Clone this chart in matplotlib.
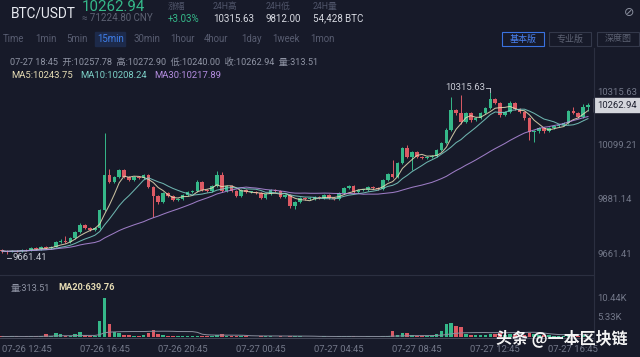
import numpy as np
import pandas as pd
import matplotlib
matplotlib.use("Agg")
import matplotlib.pyplot as plt
import matplotlib.transforms as mtransforms
from matplotlib.patches import Rectangle

plt.rcParams['font.family'] = ['Roboto', 'Noto Sans CJK SC', 'DejaVu Sans']

########################################
# Data (15min BTC/USDT)
########################################
open0 = 9679
closes = [
    9675, 9672, 9676, 9674, 9680, 9678, 9686, 9684, 9690, 9688,
    9692, 9711, 9715, 9712, 9727, 9752, 9780, 9768, 9760, 9768,
    9841, 9982, 9954, 9974, 10002, 9974, 9962, 9974, 9970, 9982,
    9934, 9897, 9873, 9909, 9897, 9881, 9885, 9901, 9913, 9917,
    9954, 9921, 9917, 9938, 9982, 9917, 9938, 9917, 9897, 9921,
    9913, 9913, 9909, 9889, 9905, 9921, 9917, 9893, 9901, 9857,
    9873, 9889, 9885, 9887, 9893, 9889, 9901, 9889, 9885, 9909,
    9929, 9938, 9913, 9921, 9921, 9934, 9930, 9925, 9962, 9986,
    9974, 10030, 10091, 10055, 10075, 10055, 10051, 10055, 10059, 10083,
    10111, 10164, 10245, 10232, 10196, 10232, 10204, 10212, 10232, 10253,
    10289, 10273, 10224, 10237, 10273, 10249, 10237, 10212, 10156, 10160,
    10172, 10160, 10172, 10180, 10184, 10192, 10241, 10232, 10216, 10257.78,
    10262.94,
]
highs = [
    9684, 9680, 9680, 9681, 9685, 9684, 9690, 9691, 9695, 9694,
    9697, 9716, 9722, 9736, 9732, 9757, 9790, 9784, 9772, 9773,
    9846, 10151, 10006, 9980, 10008, 10006, 9978, 9979, 9978, 9988,
    9986, 9938, 9901, 9914, 9913, 9900, 9890, 9906, 9918, 9922,
    9960, 9958, 9926, 9943, 9998, 9994, 9943, 9942, 9921, 9926,
    9925, 9918, 9917, 9913, 9910, 9926, 9925, 9921, 9906, 9905,
    9878, 9894, 9893, 9892, 9898, 9897, 9906, 9905, 9893, 9914,
    9934, 9943, 9942, 9926, 9926, 9939, 9938, 9934, 9967, 9991,
    10043, 10035, 10096, 10103, 10080, 10079, 10060, 10060, 10064, 10088,
    10116, 10170, 10297, 10250, 10305, 10237, 10236, 10217, 10237, 10258,
    10315.63, 10294, 10278, 10242, 10279, 10278, 10253, 10241, 10216, 10165,
    10177, 10176, 10177, 10185, 10189, 10197, 10246, 10258, 10236, 10270,
    10272.90,
]
lows = [
    9668, 9661.41, 9669, 9670, 9671, 9674, 9675, 9680, 9681, 9683,
    9685, 9690, 9706, 9708, 9709, 9724, 9748, 9762, 9755, 9756,
    9765, 9836, 9948, 9950, 9970, 9968, 9957, 9958, 9965, 9966,
    9928, 9812, 9866, 9868, 9892, 9876, 9877, 9881, 9897, 9909,
    9913, 9916, 9912, 9913, 9934, 9912, 9913, 9912, 9892, 9893,
    9908, 9908, 9904, 9884, 9885, 9901, 9912, 9888, 9889, 9850,
    9845, 9868, 9880, 9881, 9883, 9884, 9885, 9884, 9880, 9881,
    9905, 9925, 9908, 9909, 9916, 9917, 9925, 9920, 9921, 9958,
    9969, 9970, 10026, 10050, 10002, 10050, 10046, 10047, 10050, 10055,
    10079, 10107, 10160, 10226, 10190, 10192, 10198, 10200, 10208, 10228,
    10249, 10268, 10218, 10220, 10233, 10244, 10232, 10206, 10123, 10115,
    10150, 10150, 10155, 10168, 10176, 10180, 10188, 10227, 10211, 10212,
    10240.00,
]
# volume in thousands of BTC
volumes = [
    0.15, 0.12, 0.2, 0.15, 0.1, 0.15, 0.2, 0.15, 0.3, 0.7,
    0.2, 1.2, 0.8, 0.3, 0.4, 0.7, 1.4, 0.5, 0.4, 0.4,
    4.3, 10.44, 3.4, 1.4, 1.2, 0.6, 0.6, 0.4, 0.4, 0.5,
    1.1, 1.9, 0.7, 0.5, 0.3, 0.3, 0.25, 0.3, 0.3, 0.25,
    0.4, 0.3, 0.2, 0.25, 0.5, 0.9, 0.3, 0.25, 0.3, 0.2,
    0.15, 0.1, 0.12, 0.2, 0.15, 0.2, 0.1, 0.2, 0.1, 0.3,
    0.2, 0.15, 0.1, 0.1, 0.12, 0.1, 0.15, 0.1, 0.1, 0.2,
    0.2, 0.15, 0.2, 0.1, 0.1, 0.15, 0.1, 0.1, 0.3, 0.4,
    1.7, 0.5, 1.0, 1.0, 0.6, 0.3, 0.3, 0.2, 0.2, 0.9,
    1.7, 3.4, 3.9, 2.9, 2.6, 0.8, 0.6, 0.5, 0.5, 0.6,
    0.9, 0.8, 1.1, 0.6, 0.7, 0.6, 0.5, 0.6, 1.2, 0.9,
    0.6, 0.5, 0.5, 0.4, 0.4, 0.4, 0.7, 0.5, 0.4, 0.6,
    0.31351,
]
tick_idx = [5, 21, 37, 53, 69, 85, 101, 117]
tick_labels = ["07-26 12:45", "07-26 16:45", "07-26 20:45", "07-27 00:45",
               "07-27 04:45", "07-27 08:45", "07-27 12:45", "07-27 16:45"]
price_ticks = [10315.63, 10099.21, 9881.14, 9661.41]
last_price = 10262.94
vol_ticks = [10.44, 5.33]
vol_tick_labels = ["10.44K", "5.33K"]

########################################
# Colours
########################################
BG = "#171a29"
GREEN = "#35b889"
RED = "#dc5a64"
GREY = "#737889"
LIGHT = "#c9ccd6"
MA5_C = "#e6dcb4"
MA10_C = "#7ccfc6"
MA30_C = "#b48de0"

W, H = 640, 357
def fx(x):
    return x / W
def fy(y):
    return 1 - y / H

df = pd.DataFrame({"close": closes, "high": highs, "low": lows, "vol": volumes})
df["open"] = [open0] + closes[:-1]
df["up"] = df["close"] >= df["open"]
idx = np.arange(len(df))

fig = plt.figure(figsize=(6.4, 3.57), dpi=100, facecolor=BG)

########################################
# Price panel
########################################
ax = fig.add_axes([0, fy(272), 593 / W, 190 / H])
ax.set_facecolor(BG)
ax.set_xlim(-0.41, 121.03)
ax.set_ylim(10099.21 - 126 * 4.04, 10099.21 + 64 * 4.04)
ax.axis("off")

cols = np.where(df["up"], GREEN, RED)
ax.vlines(idx, df["low"], df["high"], colors=cols, linewidth=0.7)
body_lo = np.minimum(df["open"], df["close"])
body_h = np.maximum(np.abs(df["close"] - df["open"]), 2.5)
ax.bar(idx, body_h, bottom=body_lo, width=0.74, color=cols, linewidth=0)

for n, c in [(5, MA5_C), (10, MA10_C), (30, MA30_C)]:
    ma = df["close"].rolling(n, min_periods=1).mean()
    ax.plot(idx, ma, color=c, linewidth=0.75, alpha=0.85)

# high / low markers
hi_i = int(np.argmax(df["high"]))
lo_i = int(np.argmin(df["low"]))
ax.plot([hi_i - 0.9, hi_i], [df["high"][hi_i] + 18, df["high"][hi_i] + 18], color=LIGHT, lw=0.6)
ax.plot([hi_i, hi_i], [df["high"][hi_i], df["high"][hi_i] + 18], color=LIGHT, lw=0.6)
ax.text(hi_i - 1.0, df["high"][hi_i] + 18, f"{df['high'][hi_i]:.2f}", color=LIGHT,
        fontsize=6.8, ha="right", va="center")
ax.plot([lo_i, lo_i + 0.9], [df["low"][lo_i] - 14, df["low"][lo_i] - 14], color=LIGHT, lw=0.6)
ax.text(lo_i + 1.1, df["low"][lo_i] - 14, f"{df['low'][lo_i]:.2f}", color=LIGHT,
        fontsize=6.8, ha="left", va="center")

########################################
# Volume panel
########################################
axv = fig.add_axes([0, fy(337), 593 / W, 57 / H])
axv.set_facecolor(BG)
axv.set_xlim(-0.41, 121.03)
axv.set_ylim(0, 57 * 0.27)
axv.axis("off")
axv.bar(idx, df["vol"], width=0.74, color=cols, linewidth=0)
axv.plot(idx, df["vol"].rolling(20, min_periods=1).mean(), color="#8a8f9e", lw=0.7)

# x labels
tr = mtransforms.blended_transform_factory(axv.transData, fig.transFigure)
for i, lab in zip(tick_idx, tick_labels):
    axv.text(i, fy(350), lab, transform=tr, color=GREY, fontsize=6.8,
             ha="center", va="center", clip_on=False)

########################################
# Frame lines
########################################
fig.add_artist(plt.Line2D([0, fx(593)], [fy(274.5)] * 2, color="#2b2f40", lw=0.8))
fig.add_artist(plt.Line2D([0, fx(593)], [fy(337.5)] * 2, color="#454959", lw=0.7))
fig.add_artist(plt.Line2D([fx(593.5)] * 2, [fy(48), fy(342)], color="#2b2f40", lw=0.8))

########################################
# Right axis labels
########################################
for p in price_ticks:
    ypx = 146 - (p - 10099.21) / 4.04
    fig.text(fx(597), fy(ypx), f"{p:.2f}", color=GREY, fontsize=6.8, va="center", ha="left")
ylast = 146 - (last_price - 10099.21) / 4.04
fig.add_artist(Rectangle((fx(594), fy(ylast + 7)), fx(46), 14 / H, color="#d4d6dc",
                         transform=fig.transFigure))
fig.text(fx(597), fy(ylast), f"{last_price:.2f}", color="#1e2130", fontsize=6.8,
         va="center", ha="left")
for v, lab in zip(vol_ticks, vol_tick_labels):
    fig.text(fx(597), fy(337 - v / 0.27), lab, color=GREY, fontsize=6.8, va="center", ha="left")

########################################
# Header
########################################
fig.text(fx(11), fy(13), "BTC/USDT", color="#e8eaf0", fontsize=9.8, va="center")
fig.text(fx(82), fy(7), "10262.94", color=GREEN, fontsize=10.8, va="center")
fig.text(fx(82), fy(18), "≈ 71224.80 CNY", color="#5d6273", fontsize=7, va="center")
heads = [(168, "涨幅", "+3.03%", GREEN), (213, "24H高", "10315.63", "#d8dae2"),
         (266, "24H低", "9812.00", "#d8dae2"), (313, "24H量", "54,428 BTC", "#d8dae2")]
for x, t1, t2, c2 in heads:
    fig.text(fx(x), fy(6), t1, color="#50556a", fontsize=6.3, va="center")
    fig.text(fx(x), fy(18.5), t2, color=c2, fontsize=7, va="center")
fig.text(fx(629), fy(12), "⊘", color="#8a8f9e", fontsize=9, va="center", ha="center",
         family="DejaVu Sans")

tabs = [(3, "Time"), (35, "1min"), (66, "5min"), (97, "15min"), (133, "30min"),
        (170, "1hour"), (204, "4hour"), (241, "1day"), (272, "1week"), (310, "1mon")]
for x, t in tabs:
    if t == "15min":
        fig.add_artist(Rectangle((fx(x - 2), fy(46)), 30 / W, 14 / H, color="#1d2a4a",
                                 transform=fig.transFigure))
        fig.text(fx(x), fy(38.5), t, color="#3f7ee8", fontsize=6.9, va="center")
    else:
        fig.text(fx(x), fy(38.5), t, color="#575c70", fontsize=6.9, va="center")

buttons = [(502, "基本版", "#3a72e0", "#4a82f0"), (549, "专业版", "#33384a", "#5d6273"),
           (597, "深度图", "#33384a", "#5d6273")]
for x, t, ec, tc in buttons:
    fig.add_artist(Rectangle((fx(x), fy(46)), 42 / W, 14 / H, facecolor="none",
                             edgecolor=ec, lw=0.8, transform=fig.transFigure))
    fig.text(fx(x + 21), fy(39), t, color=tc, fontsize=6.5, va="center", ha="center")

fig.text(fx(10), fy(62), "07-27 18:45  开:10257.78  高:10272.90  低:10240.00  收:10262.94  量:313.51",
         color="#8f94a4", fontsize=6.6, va="center")
fig.text(fx(11), fy(75), "MA5:10243.75", color=MA5_C, fontsize=6.8, va="center")
fig.text(fx(80), fy(75), "MA10:10208.24", color=MA10_C, fontsize=6.8, va="center")
fig.text(fx(154), fy(75), "MA30:10217.89", color=MA30_C, fontsize=6.8, va="center")

fig.text(fx(11), fy(288), "量:313.51", color="#8f94a4", fontsize=6.6, va="center")
fig.text(fx(58), fy(288), "MA20:639.76", color=MA5_C, fontsize=6.6, va="center", weight="bold")

# watermark
fig.text(fx(496), fy(338), "头条 @一本区块链", color="#f4f4f4", fontsize=11.5,
         va="center", ha="left", weight="bold", family=["Noto Sans CJK SC", "DejaVu Sans"])

fig.savefig("out.png", dpi=100, facecolor=BG)
